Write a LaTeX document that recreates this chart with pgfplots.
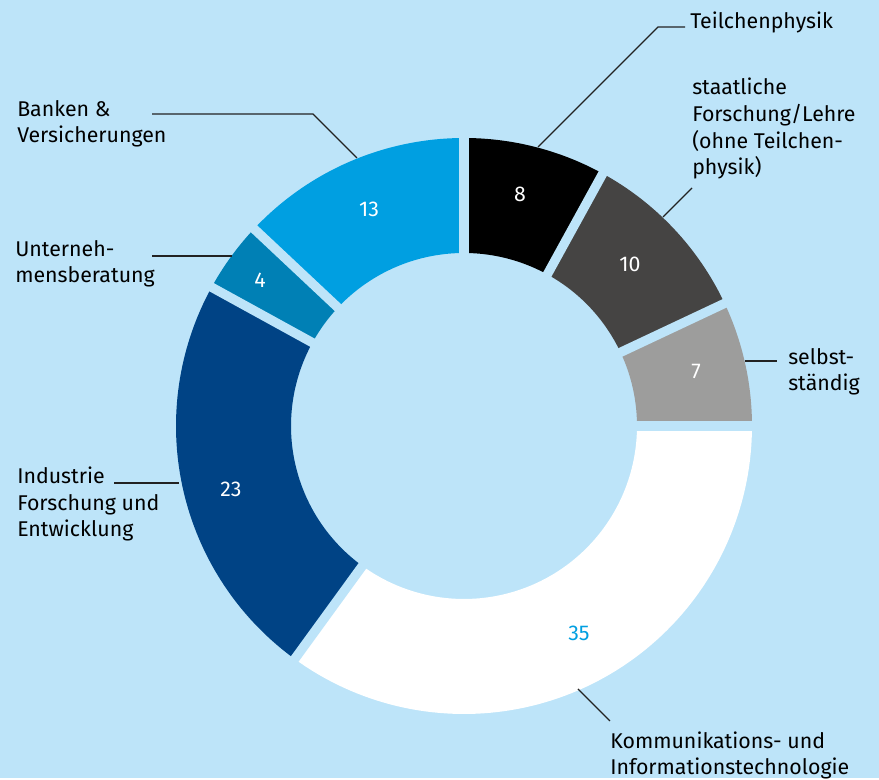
\documentclass[border=0pt]{standalone}
\usepackage{pgfplots}
\pgfplotsset{compat=1.18}
\usepackage{fontspec}
\setmainfont{Fira Sans}
\definecolor{bg}{HTML}{BDE4F9}
\definecolor{cA}{HTML}{000000}
\definecolor{cB}{HTML}{454443}
\definecolor{cC}{HTML}{9D9D9C}
\definecolor{cD}{HTML}{FFFFFF}
\definecolor{cE}{HTML}{004385}
\definecolor{cF}{HTML}{0080B5}
\definecolor{cG}{HTML}{009FE1}
\definecolor{lead}{HTML}{222222}
\begin{document}
\fontsize{16}{20}\selectfont
\begin{tikzpicture}[font=\fontsize{16}{20}\selectfont]
% values (percent), clockwise from top
\def\va{8}  % Teilchenphysik
\def\vb{10} % staatliche Forschung/Lehre
\def\vc{7}  % selbststaendig
\def\vd{35} % Kommunikations- und Informationstechnologie
\def\ve{23} % Industrie Forschung und Entwicklung
\def\vf{4}  % Unternehmensberatung
\def\vg{13} % Banken & Versicherungen
\pgfmathsetmacro\aA{90}
\pgfmathsetmacro\aB{\aA-3.6*\va}
\pgfmathsetmacro\aC{\aB-3.6*\vb}
\pgfmathsetmacro\aD{\aC-3.6*\vc}
\pgfmathsetmacro\aE{\aD-3.6*\vd}
\pgfmathsetmacro\aF{\aE-3.6*\ve}
\pgfmathsetmacro\aG{\aF-3.6*\vf}
\pgfmathsetmacro\aH{\aG-3.6*\vg}
\begin{axis}[x=0.75pt, y=0.75pt, hide axis, clip=false,
  xmin=-464, xmax=415, ymin=-352, ymax=426]
\fill[bg] (axis cs:-464,-352) rectangle (axis cs:415,426);
% slices
\addplot[cA, line width=86.25pt, domain=\aB:\aA, samples=40] ({230.5*cos(x)},{230.5*sin(x)});
\addplot[cB, line width=86.25pt, domain=\aC:\aB, samples=40] ({230.5*cos(x)},{230.5*sin(x)});
\addplot[cC, line width=86.25pt, domain=\aD:\aC, samples=40] ({230.5*cos(x)},{230.5*sin(x)});
\addplot[cD, line width=86.25pt, domain=\aE:\aD, samples=90] ({230.5*cos(x)},{230.5*sin(x)});
\addplot[cE, line width=86.25pt, domain=\aF:\aE, samples=70] ({230.5*cos(x)},{230.5*sin(x)});
\addplot[cF, line width=86.25pt, domain=\aG:\aF, samples=20] ({230.5*cos(x)},{230.5*sin(x)});
\addplot[cG, line width=86.25pt, domain=\aH:\aG, samples=50] ({230.5*cos(x)},{230.5*sin(x)});
% gaps
\foreach \a in {\aA,\aB,\aC,\aD,\aE,\aF,\aG}{
  \edef\temp{\noexpand\addplot[bg, line width=7pt, domain=160:300, samples=2] ({x*cos(\a)},{x*sin(\a)});}
  \temp
}
% leader lines
\addplot[lead, line width=1pt] coordinates {(74,279) (194,399) (221,399)};
\addplot[lead, line width=1pt] coordinates {(199,209) (228,238)};
\addplot[lead, line width=1pt] coordinates {(281,65) (313,65)};
\addplot[lead, line width=1pt] coordinates {(114,-263) (146,-295)};
\addplot[lead, line width=1pt] coordinates {(-350,-57) (-285,-57)};
\addplot[lead, line width=1pt] coordinates {(-312,170) (-232,170)};
\addplot[lead, line width=1pt] coordinates {(-312,312) (-151,312) (-107,268)};
% values
\node[white] at (axis cs:56,232) {8};
\node[white] at (axis cs:166,162) {10};
\node[white] at (axis cs:232,55) {7};
\node[cG] at (axis cs:115,-207) {35};
\node[white] at (axis cs:-233,-63) {23};
\node[white] at (axis cs:-204,146) {4};
\node[white] at (axis cs:-95,217) {13};
% category labels (base = baseline of last line)
\node[anchor=base west, inner sep=0pt] at (axis cs:226,397) {Teilchenphysik};
\node[anchor=base west, inner sep=0pt, align=left] at (axis cs:228,251) {staatliche\\Forschung/Lehre\\(ohne Teilchen-\\physik)};
\node[anchor=base west, inner sep=0pt, align=left] at (axis cs:324,35) {selbst-\\ständig};
\node[anchor=base west, inner sep=0pt, align=left] at (axis cs:146,-349) {Kommunikations- und\\Informationstechnologie};
\node[anchor=base west, inner sep=0pt, align=left] at (axis cs:-447,-111) {Industrie\\Forschung und\\Entwicklung};
\node[anchor=base west, inner sep=0pt, align=left] at (axis cs:-449,143) {Unterneh-\\mensberatung};
\node[anchor=base west, inner sep=0pt, align=left] at (axis cs:-447,283) {Banken \&\\Versicherungen};
\end{axis}
\end{tikzpicture}
\end{document}
